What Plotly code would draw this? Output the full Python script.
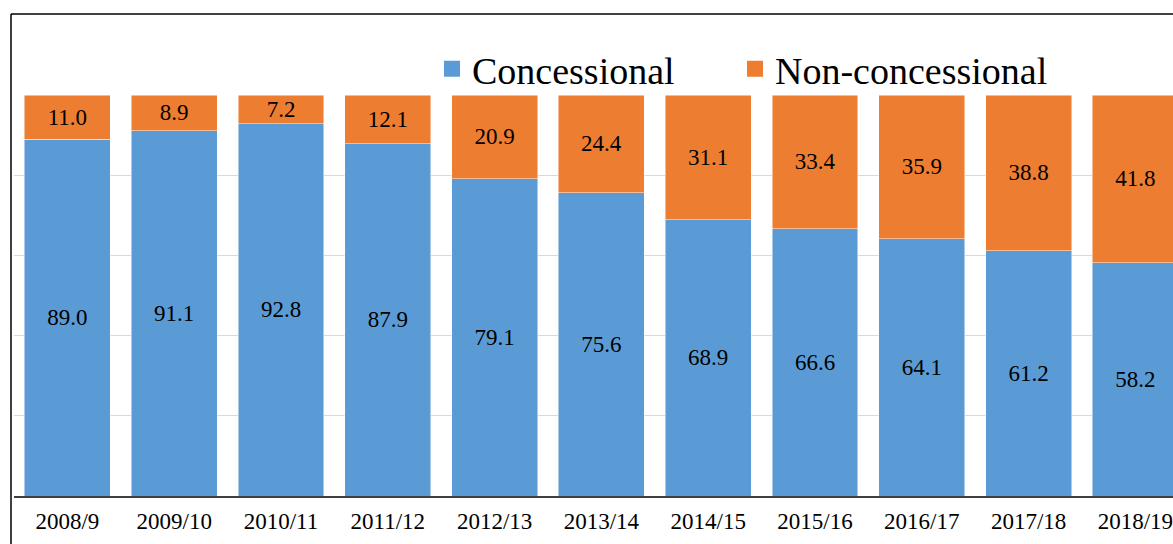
import plotly.graph_objects as go

years = ["2008/9", "2009/10", "2010/11", "2011/12", "2012/13", "2013/14",
         "2014/15", "2015/16", "2016/17", "2017/18", "2018/19"]
concessional = [89.0, 91.1, 92.8, 87.9, 79.1, 75.6, 68.9, 66.6, 64.1, 61.2, 58.2]
non_concessional = [11.0, 8.9, 7.2, 12.1, 20.9, 24.4, 31.1, 33.4, 35.9, 38.8, 41.8]

BLUE = "#5B9BD5"
ORANGE = "#ED7D31"
FONT = "Liberation Serif, Times New Roman, serif"

W, H = 1173, 544
ML, MR, MT, MB = 14, 0, 95, 48
PW, PH = W - ML - MR, H - MT - MB

fig = go.Figure()
for name, vals, col, lg in [("Concessional", concessional, BLUE, "legend"),
                            ("Non-concessional", non_concessional, ORANGE, "legend2")]:
    fig.add_trace(go.Bar(
        x=years, y=vals, name=name, showlegend=False,
        marker=dict(color=col, line=dict(color="rgba(255,255,255,0.6)", width=0.8)),
        text=[f"{v:.1f}" for v in vals], textposition="inside",
        insidetextanchor="middle", constraintext="none",
        textfont=dict(family=FONT, size=23, color="black"),
    ))
    fig.add_trace(go.Scatter(
        x=[None], y=[None], mode="markers", name=name, legend=lg,
        marker=dict(symbol="square", size=20, color=col),
    ))

legend_common = dict(orientation="h", xanchor="left",
                     y=(H - MB - 69) / PH, yanchor="middle",
                     font=dict(family=FONT, size=38, color="black"),
                     bgcolor="rgba(0,0,0,0)", itemwidth=30)

fig.update_layout(
    barmode="stack", bargap=0.195,
    width=W, height=H,
    margin=dict(l=ML, r=MR, t=MT, b=MB),
    paper_bgcolor="white", plot_bgcolor="white",
    font=dict(family=FONT, color="black"),
    legend=dict(x=(432 - ML) / PW, **legend_common),
    legend2=dict(x=(735 - ML) / PW, **legend_common),
    xaxis=dict(range=[-0.5, -0.5 + PW / 106.8], showgrid=False,
               showline=True, linecolor="#404040", linewidth=1.5,
               ticks="", ticklabelstandoff=4,
               tickfont=dict(family=FONT, size=23, color="black")),
    yaxis=dict(range=[0, 100], dtick=20, showticklabels=False,
               showgrid=True, gridcolor="#D9D9D9", gridwidth=1,
               zeroline=False, showline=False, fixedrange=True),
)

# outer chart border (left and top edges)
bx = (11 - ML) / PW
by_top = (H - MB - 14) / PH
by_bot = (H - MB - H - 5) / PH
fig.add_shape(type="line", xref="paper", yref="paper",
              x0=bx, x1=bx, y0=by_bot, y1=by_top,
              line=dict(color="black", width=1.5))
fig.add_shape(type="line", xref="paper", yref="paper",
              x0=bx, x1=1.05, y0=by_top, y1=by_top,
              line=dict(color="black", width=1.5))

fig.write_html("out.html", config={"displayModeBar": False},
               post_script="document.body.style.margin='0px';document.body.style.overflow='hidden';")
